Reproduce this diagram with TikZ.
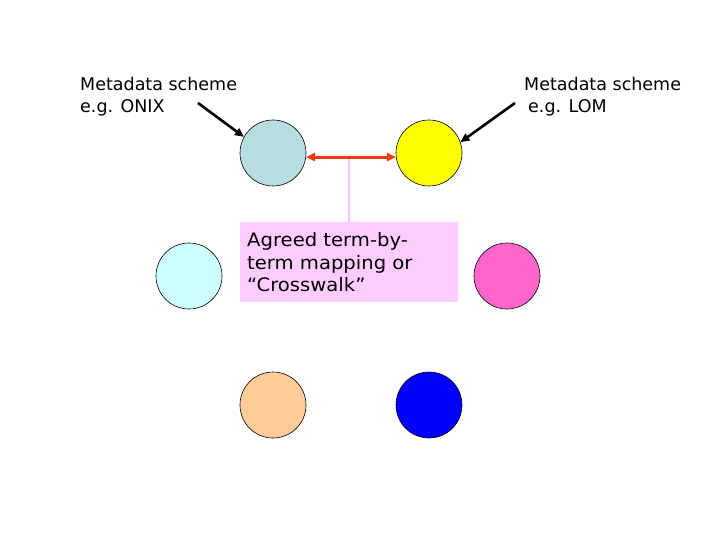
\documentclass[tikz,border=0pt]{standalone}
\usepackage{fontspec}
\setmainfont{DejaVu Sans}
\newfontfamily\boxfont[FakeStretch=1.06]{DejaVu Sans}
\usetikzlibrary{arrows.meta}
\definecolor{cgrey}{HTML}{B8DDE1}
\definecolor{cyellow}{HTML}{FFFF00}
\definecolor{ccyan}{HTML}{CCFFFF}
\definecolor{cpink}{HTML}{FF66CC}
\definecolor{cpeach}{HTML}{FFCC99}
\definecolor{cblue}{HTML}{0000FF}
\definecolor{cred}{HTML}{F03C10}
\definecolor{boxpink}{HTML}{FFCCFF}
\definecolor{linepink}{HTML}{F8C4F8}
\begin{document}
\begin{tikzpicture}[x=1pt,y=-1pt,
  circ/.style={circle,draw=black,line width=0.6pt,minimum size=66pt,inner sep=0pt},
  lbl/.style={inner sep=0pt,align=left,font=\fontsize{17.5}{22}\selectfont},
  blk/.style={line width=2.6pt,-{Triangle[length=9pt,width=8pt]}},
  redarr/.style={cred,line width=3pt,{Triangle[length=9pt,width=8pt]}-{Triangle[length=9pt,width=8pt]}},
  pinkline/.style={linepink,line width=2pt},
  mapbox/.style={fill=boxpink,anchor=north west,minimum width=218pt,minimum height=80pt,text width=204pt,inner xsep=7pt,inner ysep=0pt,align=left,font=\boxfont\fontsize{18.5}{22.3}\selectfont}]
\useasboundingbox (0,0) rectangle (720,540);
\node[circ,fill=cgrey] (c1) at (273,153) {};
\node[circ,fill=cyellow] (c2) at (429,153) {};
\node[circ,fill=ccyan] (c3) at (189,276) {};
\node[circ,fill=cpink] (c4) at (507,276) {};
\node[circ,fill=cpeach] (c5) at (273,405) {};
\node[circ,fill=cblue] (c6) at (429,405) {};
\node[mapbox] (box) at (240,222) {Agreed term-by-\\term mapping or\\“Crosswalk”};
\node[lbl,anchor=base west] (l1) at (80,113) {Metadata scheme\\e.g. ONIX};
\node[lbl,anchor=base west] (l2) at (524,113) {Metadata scheme\\\hspace{4pt}e.g. LOM};
\coordinate (a1) at (198,103);
\coordinate (a2) at (515,103);
\draw[blk] (a1) -- (c1.151);
\draw[blk] (a2) -- (c2.19);
\draw[pinkline] (box.north) -- (box.north |- c1.-7);
\draw[redarr] (c1.-7) -- (c2.187);
\end{tikzpicture}
\end{document}
